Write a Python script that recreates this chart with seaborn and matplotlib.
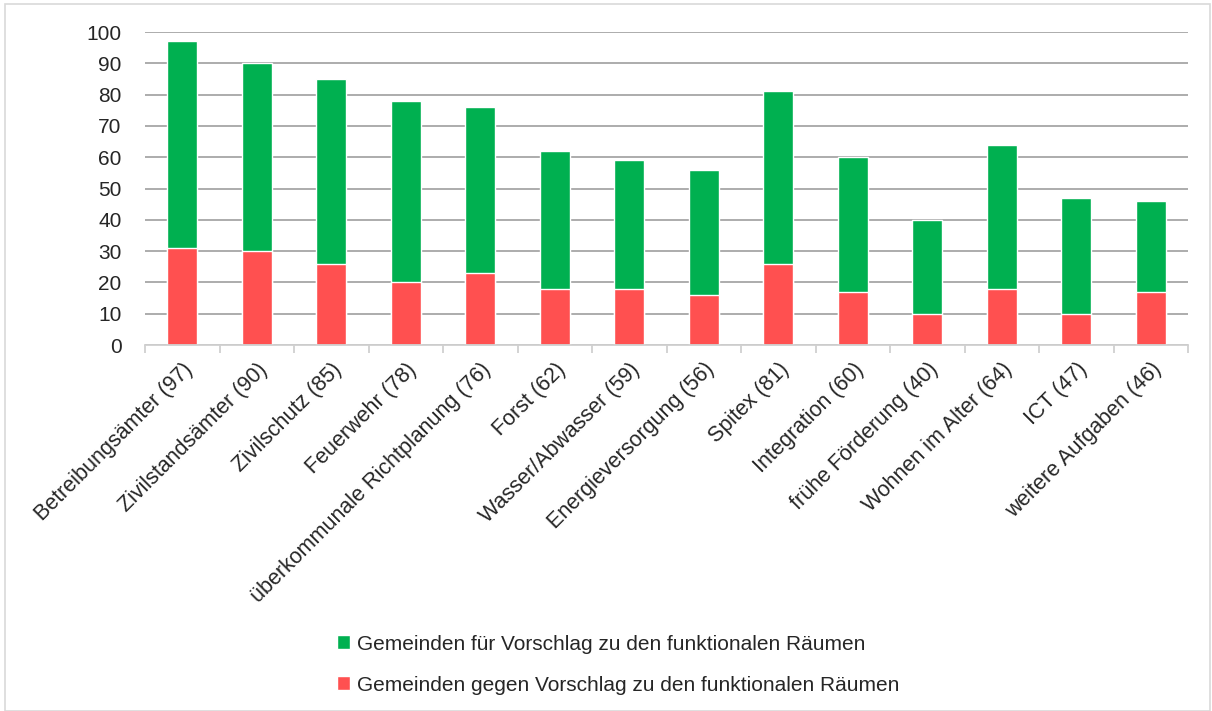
import matplotlib
matplotlib.use("Agg")
import matplotlib.pyplot as plt
import seaborn as sns
import pandas as pd
from matplotlib.patches import Rectangle
from matplotlib.ticker import FixedLocator

categories = ["Betreibungsämter (97)", "Zivilstandsämter (90)", "Zivilschutz (85)",
              "Feuerwehr (78)", "überkommunale Richtplanung (76)", "Forst (62)",
              "Wasser/Abwasser (59)", "Energieversorgung (56)", "Spitex (81)",
              "Integration (60)", "frühe Förderung (40)", "Wohnen im Alter (64)",
              "ICT (47)", "weitere Aufgaben (46)"]
total = [97, 90, 85, 78, 76, 62, 59, 56, 81, 60, 40, 64, 47, 46]
gegen = [31, 30, 26, 20, 23, 18, 18, 16, 26, 17, 10, 18, 10, 17]
fuer = [t - g for t, g in zip(total, gegen)]

GREEN = "#00B050"
RED = "#FF5050"

sns.set_theme(style="white")
plt.rcParams['font.family'] = ['Liberation Sans', 'DejaVu Sans']

df = pd.DataFrame({"cat": categories, "total": total, "gegen": gegen, "fuer": fuer})

fig = plt.figure(figsize=(12.12, 7.11), dpi=100)
ax = fig.add_axes([145/1212, 1-345/711, (1188-145)/1212, (345-32)/711])

sns.barplot(data=df, x="cat", y="total", color=GREEN, width=0.4, ax=ax,
            saturation=1, label="Gemeinden für Vorschlag zu den funktionalen Räumen")
sns.barplot(data=df, x="cat", y="gegen", color=RED, width=0.4, ax=ax,
            saturation=1, label="Gemeinden gegen Vorschlag zu den funktionalen Räumen")

ax.set_ylim(0, 100)
ax.set_xlim(-0.5, len(categories) - 0.5)
ax.set_yticks(range(0, 101, 10))
ax.yaxis.grid(True, color="#A6A6A6", linewidth=1.3)
ax.set_axisbelow(True)
ax.set_xlabel("")
ax.set_ylabel("")
for s in ["top", "right", "left"]:
    ax.spines[s].set_visible(False)
ax.spines["bottom"].set_color("#D0D0D0")
ax.spines["bottom"].set_linewidth(1.3)

ax.set_xticks(range(len(categories)))
ax.set_xticklabels(categories, rotation=45, ha="right", rotation_mode="anchor", fontsize=15.5)
ax.tick_params(axis="x", which="major", length=0, pad=10)
ax.xaxis.set_minor_locator(FixedLocator([i - 0.5 for i in range(len(categories) + 1)]))
ax.tick_params(axis="x", which="minor", length=6, color="#D0D0D0", width=1.3, direction="out", bottom=True)
ax.tick_params(axis="y", labelsize=15, length=0, pad=17)

handles, labels = ax.get_legend_handles_labels()
if ax.get_legend():
    ax.get_legend().remove()
leg = fig.legend(handles, labels, loc="upper left", bbox_to_anchor=(318/1212, 1-616/711),
                 frameon=False, fontsize=15, handlelength=0.65, handleheight=0.65,
                 handletextpad=0.3, labelspacing=1.05)

fig.patches.append(Rectangle((5/1212, 0), 1-7/1212, 1-4/711, transform=fig.transFigure,
                             fill=False, edgecolor="#D9D9D9", linewidth=1.2))

fig.savefig("out.png", dpi=100)
